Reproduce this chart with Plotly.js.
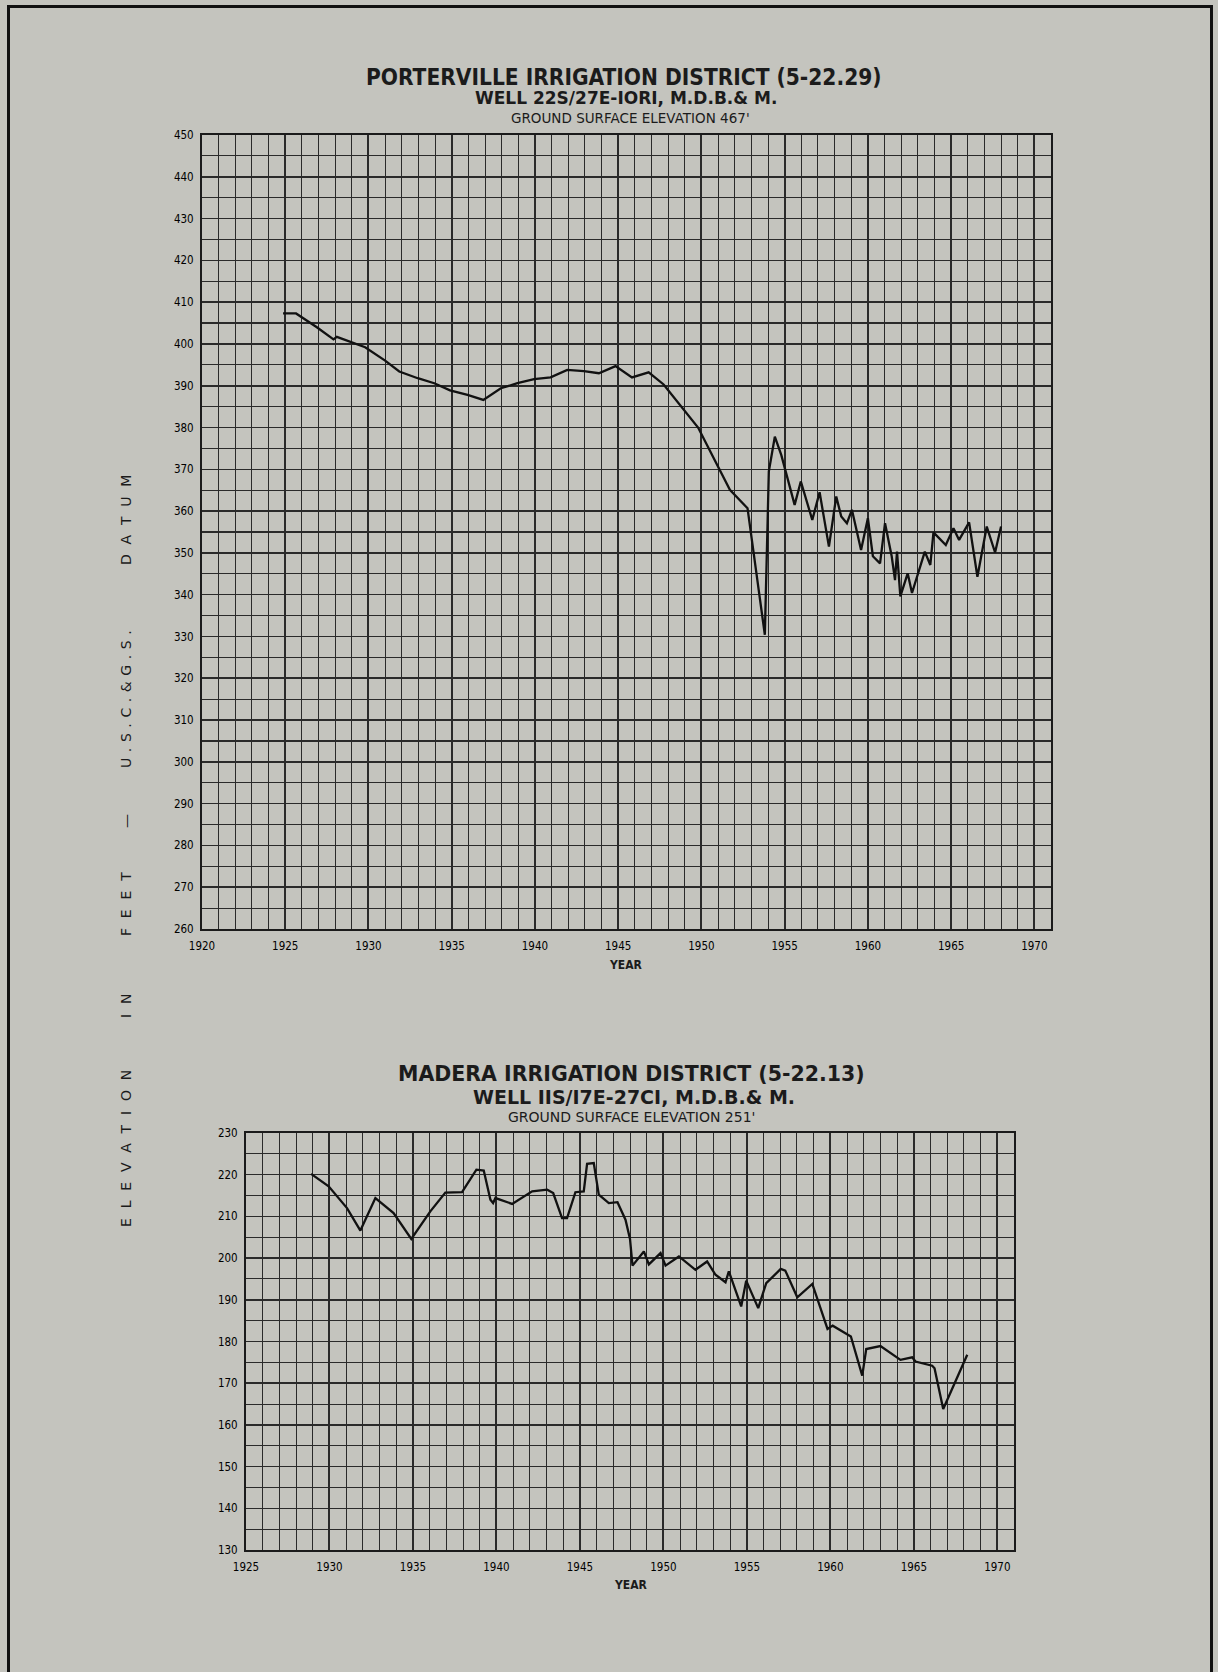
<!DOCTYPE html>
<html>
<head>
<meta charset="utf-8">
<script src="https://cdn.plot.ly/plotly-3.0.1.min.js"></script>
<style>
  html, body { margin: 0; padding: 0; background: #c4c4be; }
  #chart { width: 1218px; height: 1672px; }
</style>
</head>
<body>
<div id="chart"></div>
<script>
// Porterville Irrigation District, well 22S/27E-10R1 (water surface elevation, ft)
const portervilleYears = [
  1924.87, 1925.65, 1926.9, 1927.9, 1928.1, 1929.8, 1931.0, 1931.85, 1932.96, 1933.95,
  1934.9, 1935.95, 1936.9, 1937.95, 1938.95, 1939.95, 1940.94, 1941.94, 1942.94, 1943.84,
  1944.84, 1945.83, 1946.83, 1947.73, 1949.8, 1951.71, 1952.77, 1953.81, 1954.05, 1954.41,
  1954.8, 1955.6, 1955.97, 1956.66, 1957.1, 1957.66, 1958.1, 1958.4, 1958.74, 1959.04,
  1959.59, 1960.0, 1960.3, 1960.73, 1961.03, 1961.43, 1961.63, 1961.75, 1961.95, 1962.39,
  1962.65, 1963.42, 1963.75, 1963.94, 1964.68, 1965.14, 1965.48, 1966.08, 1966.58, 1967.14,
  1967.64, 1968.0
];
const portervilleLevels = [
  407.3, 407.3, 404.0, 401.1, 401.7, 399.2, 396.0, 393.4, 391.8, 390.6,
  388.9, 387.8, 386.6, 389.4, 390.6, 391.6, 392.0, 393.8, 393.5, 393.0,
  394.7, 392.0, 393.2, 390.3, 380.0, 365.1, 360.7, 330.4, 369.5, 377.8,
  373.4, 361.5, 367.1, 357.9, 364.5, 351.5, 363.5, 358.7, 357.1, 360.3,
  350.7, 358.3, 349.2, 347.5, 357.1, 349.2, 343.5, 350.3, 339.6, 345.1,
  340.4, 350.3, 347.1, 354.9, 351.9, 355.9, 353.1, 357.3, 344.3, 356.3,
  350.1, 356.3
];

// Madera Irrigation District, well 11S/17E-27C1
const maderaYears = [
  1928.9, 1929.95, 1931.05, 1931.85, 1932.75, 1933.84, 1934.9, 1936.04, 1936.94, 1937.94,
  1938.8, 1939.24, 1939.64, 1939.8, 1939.94, 1940.94, 1942.14, 1943.04, 1943.4, 1943.93,
  1944.23, 1944.73, 1945.23, 1945.43, 1945.83, 1946.13, 1946.73, 1947.25, 1947.73, 1948.0,
  1948.15, 1948.83, 1949.13, 1949.83, 1950.13, 1950.93, 1951.92, 1952.62, 1953.12, 1953.72,
  1953.92, 1954.66, 1954.96, 1955.68, 1956.16, 1957.03, 1957.3, 1958.02, 1958.92, 1959.83,
  1960.14, 1961.0, 1961.23, 1961.91, 1962.15, 1963.0, 1964.2, 1964.9, 1965.1, 1966.1,
  1966.24, 1966.76, 1968.2
];
const maderaLevels = [
  220.2, 217.2, 212.0, 206.6, 214.4, 210.8, 204.6, 211.2, 215.7, 215.8,
  221.2, 221.0, 214.0, 213.2, 214.4, 213.0, 216.0, 216.4, 215.6, 209.6,
  209.6, 215.8, 216.0, 222.6, 222.8, 215.2, 213.2, 213.4, 209.2, 204.6,
  198.2, 201.6, 198.5, 201.2, 198.2, 200.4, 197.2, 199.2, 196.0, 194.2,
  196.8, 188.4, 194.6, 188.0, 194.0, 197.4, 197.0, 190.6, 193.8, 183.0,
  183.8, 181.6, 181.2, 171.8, 178.2, 178.9, 175.6, 176.2, 175.2, 174.2,
  173.6, 163.8, 176.8
];

// Titles and axis wording
const topTitle = ['PORTERVILLE IRRIGATION DISTRICT (5-22.29)', 'WELL 22S/27E-IORI, M.D.B.& M.', "GROUND SURFACE ELEVATION 467'"];
const bottomTitle = ['MADERA IRRIGATION DISTRICT (5-22.13)', 'WELL IIS/I7E-27CI, M.D.B.& M.', "GROUND SURFACE ELEVATION 251'"];
const yLabelWords = ['ELEVATION', 'IN', 'FEET', '\u2014', 'U.S.C.&G.S.', 'DATUM'];

const W = 1218, H = 1672;
const px = v => v / W;
const py = v => 1 - v / H;

const BG = '#c4c4be';
const INK = '#1b1b1b';
const GRID = '#2a2a2a';
const NARROW = '"Liberation Sans Narrow", "DejaVu Sans Condensed", "Liberation Sans", sans-serif';
const PLAIN = '"DejaVu Sans", "Liberation Sans", sans-serif';

function xAxis(domain, range, tick0) {
  return {
    domain: domain, range: range, tick0: tick0, dtick: 5, tickmode: 'linear',
    showgrid: true, gridcolor: GRID, gridwidth: 2,
    minor: { dtick: 1, tick0: tick0, showgrid: true, gridcolor: GRID, gridwidth: 1 },
    showline: true, mirror: true, linecolor: INK, linewidth: 2,
    zeroline: false, ticks: '', ticklabelstandoff: 5,
    tickfont: { family: NARROW, size: 11.5, color: '#000' },
    fixedrange: true
  };
}
function yAxis(domain, range, anchor) {
  return {
    domain: domain, range: range, dtick: 10, tickmode: 'linear', tick0: range[0],
    showgrid: true, gridcolor: GRID, gridwidth: 1.6,
    minor: { dtick: 5, showgrid: true, gridcolor: GRID, gridwidth: 1.1 },
    showline: true, mirror: true, linecolor: INK, linewidth: 2,
    zeroline: false, ticks: '', ticklabelstandoff: 4,
    tickfont: { family: NARROW, size: 11.5, color: '#000' },
    anchor: anchor, fixedrange: true
  };
}

const traces = [
  { x: portervilleYears, y: portervilleLevels, xaxis: 'x', yaxis: 'y', type: 'scatter', mode: 'lines',
    line: { color: '#111', width: 2.3 }, hoverinfo: 'x+y', showlegend: false },
  { x: maderaYears, y: maderaLevels, xaxis: 'x2', yaxis: 'y2', type: 'scatter', mode: 'lines',
    line: { color: '#111', width: 2.3 }, hoverinfo: 'x+y', showlegend: false }
];

function label(text, x, y, size, bold, family, angle) {
  return {
    text: bold ? '<b>' + text + '</b>' : text,
    xref: 'paper', yref: 'paper', x: px(x), y: py(y),
    xanchor: 'center', yanchor: 'middle', showarrow: false,
    textangle: angle || 0,
    font: { family: family || NARROW, size: size, color: INK }
  };
}

function spaced(word, gap) {
  return word.split('').join(gap);
}

const annotations = [
  label(topTitle[0], 624, 77, 22.5, true),
  label(topTitle[1], 626, 98, 17, true, PLAIN),
  label(topTitle[2], 630, 118, 13.5, false, PLAIN),
  label('YEAR', 626, 965, 12, true),
  label(bottomTitle[0], 631, 1074, 20.5, true, PLAIN),
  label(bottomTitle[1], 634, 1097, 19, true, PLAIN),
  label(bottomTitle[2], 631.5, 1117, 14, false, PLAIN),
  label('YEAR', 631, 1585, 12, true)
];
// Vertical axis wording, one word at a time, running bottom to top
const wordCenters = [1149, 1006, 904, 821, 699, 520];
const wordGaps = ['\u2002\u2009', '\u2002\u2009', '\u2002\u2009', '', '\u2009\u2009', '\u2002\u2009'];
yLabelWords.forEach((w, i) => {
  annotations.push(label(spaced(w, wordGaps[i]), 126, wordCenters[i], 14, false, PLAIN, -90));
});

const layout = {
  width: W, height: H,
  margin: { l: 0, r: 0, t: 0, b: 0 },
  paper_bgcolor: BG, plot_bgcolor: BG,
  showlegend: false,
  xaxis: xAxis([px(202), px(1051)], [1920, 1971], 1920),
  yaxis: yAxis([py(929), py(135)], [260, 450], 'x'),
  xaxis2: Object.assign(xAxis([px(246), px(1014)], [1925, 1971], 1925), { anchor: 'y2' }),
  yaxis2: yAxis([py(1550), py(1133)], [130, 230], 'x2'),
  annotations: annotations,
  shapes: [
    { type: 'rect', xref: 'paper', yref: 'paper',
      x0: px(8.5), x1: px(1211.5), y0: -0.02, y1: py(6.5),
      line: { color: '#111', width: 3 }, fillcolor: 'rgba(0,0,0,0)' }
  ]
};

Plotly.newPlot('chart', traces, layout, { staticPlot: true, displayModeBar: false });
</script>
</body>
</html>
